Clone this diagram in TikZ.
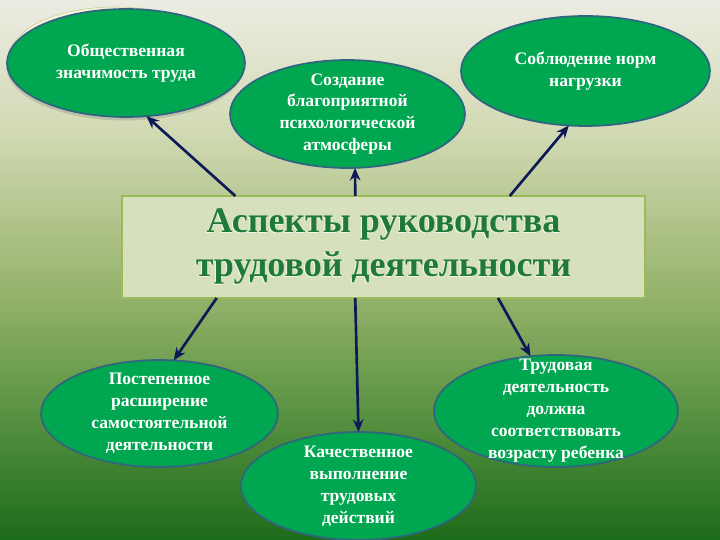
\documentclass[tikz,border=0pt]{standalone}
\usepackage{fontspec}
\setmainfont{Liberation Serif}
\usetikzlibrary{positioning,shapes.geometric,arrows.meta,shadows}

\definecolor{fontop}{RGB}{236,236,226}
\definecolor{fonhigh}{RGB}{210,218,180}
\definecolor{fonmid}{RGB}{155,182,112}
\definecolor{fonlow}{RGB}{95,150,70}
\definecolor{fonbot}{RGB}{28,108,26}
\definecolor{ellfill}{RGB}{0,166,80}
\definecolor{ellline}{RGB}{48,100,128}
\definecolor{boxfill}{RGB}{215,224,188}
\definecolor{boxline}{RGB}{155,187,89}
\definecolor{titlegreen}{RGB}{31,122,58}
\definecolor{titleshine}{RGB}{242,248,232}
\definecolor{arrline}{RGB}{14,26,88}
\definecolor{cream}{RGB}{246,244,216}
\definecolor{creamline}{RGB}{200,200,160}

\pgfdeclareverticalshading{fon}{100bp}{color(0bp)=(fonbot); color(25bp)=(fonbot); color(38bp)=(fonlow); color(49bp)=(fonmid); color(63bp)=(fonhigh); color(75bp)=(fontop); color(100bp)=(fontop)}

\tikzset{
	aspect/.style={ellipse, draw=ellline, line width=1.2pt, fill=ellfill, text=white, font=\bfseries\fontsize{12.5}{15.6}\selectfont, align=center, inner sep=-30pt, outer sep=0pt},
	title/.style={rectangle, draw=boxline, line width=2pt, fill=boxfill, text=titlegreen, font=\bfseries\fontsize{25.6}{31}\selectfont, align=center, minimum width=13.075cm, minimum height=2.55cm, inner sep=2pt, outer sep=0pt},
	arr/.style={-{Stealth[length=9pt,width=7.5pt]}, line width=1.9pt, draw=arrline}
}

\newcommand{\emb}[1]{\leavevmode\rlap{\kern-0.7pt\raisebox{-0.7pt}{\color{titleshine}#1}}#1}

\begin{document}
\begin{tikzpicture}
	\shade[shading=fon] (0,0) rectangle (18,13.5);
	\useasboundingbox (0,0) rectangle (18,13.5);

	\node[title] (asp) at (9.5875,7.325) {\emb{Аспекты руководства}\\ \emb{трудовой деятельности}};

	\filldraw[fill=cream, draw=creamline, line width=0.4pt] (2.875,12.125) ellipse (2.6 and 1.2);

	\node[aspect, above=1.975cm of asp, xshift=-6.4375cm, minimum width=5.95cm, minimum height=2.7cm, drop shadow={shadow xshift=-0.5pt, shadow yshift=-2.5pt, opacity=0.3}] (obsh) {Общественная\\ значимость труда};
	\node[aspect, above=0.7cm of asp, xshift=-0.9cm, minimum width=5.875cm, minimum height=2.7cm] (sozd) {Создание\\ благоприятной\\ психологической\\ атмосферы};
	\node[aspect, above=1.75cm of asp, xshift=5.05cm, minimum width=6.225cm, minimum height=2.75cm] (norm) {Соблюдение норм\\ нагрузки};

	\node[aspect, below=1.55cm of asp, xshift=-5.6cm, minimum width=5.925cm, minimum height=2.675cm] (post) {Постепенное\\ расширение\\ самостоятельной\\ деятельности};
	\node[aspect, below=1.425cm of asp, xshift=4.3125cm, minimum width=6.1cm, minimum height=2.8cm] (trud) {Трудовая\\ деятельность\\ должна\\ соответствовать\\ возрасту ребенка};
	\node[aspect, below=3.35cm of asp, xshift=-0.625cm, minimum width=5.875cm, minimum height=2.7cm] (kach) {Качественное\\ выполнение\\ трудовых\\ действий};

	\draw[arr] (asp.161) -- (obsh.-69);
	\draw[arr] (asp.119) -- (sozd.-82);
	\draw[arr] (asp.22) -- (norm.-107);
	\draw[arr] (asp.-163) -- (post.75);
	\draw[arr] (asp.-119) -- (kach.north);
	\draw[arr] (asp.-24) -- (trud.115);
\end{tikzpicture}
\end{document}
